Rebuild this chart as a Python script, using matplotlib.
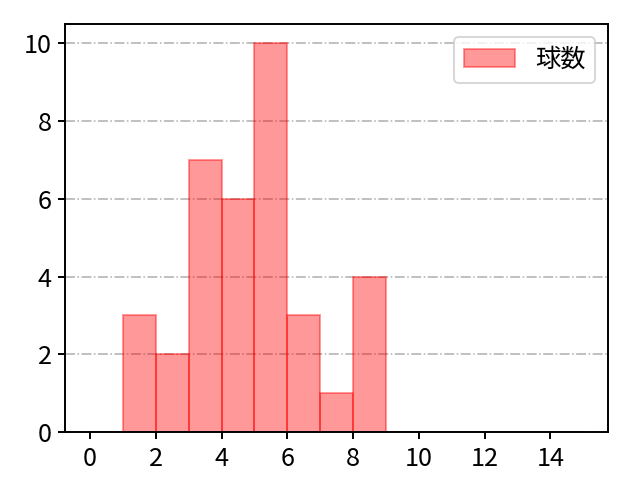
import matplotlib
matplotlib.use("Agg")
import matplotlib.pyplot as plt

plt.rcParams['font.family'] = ['Noto Sans CJK JP', 'DejaVu Sans']
plt.rcParams['font.size'] = 13
plt.rcParams['axes.linewidth'] = 1.0
plt.rcParams['xtick.major.width'] = 1.0
plt.rcParams['ytick.major.width'] = 1.0

# pitch count bins (left edges) and how many games fell into each
bin_edges = list(range(0, 16))
bin_lefts = [1, 2, 3, 4, 5, 6, 7, 8]
counts = [3, 2, 7, 6, 10, 3, 1, 4]
label = "球数"

fig, ax = plt.subplots(figsize=(640 / 140, 480 / 140), dpi=140)
fig.subplots_adjust(left=0.102, right=0.95, top=0.95, bottom=0.1)

ax.hist(bin_lefts, bins=bin_edges, weights=counts, color="red", alpha=0.4,
        edgecolor="red", label=label)

ax.set_xticks(range(0, 16, 2))
ax.grid(axis="y", linestyle="-.", color="#b0b0b0")
ax.set_axisbelow(True)
ax.legend(loc="upper right")

fig.savefig("out.png", dpi=140)
